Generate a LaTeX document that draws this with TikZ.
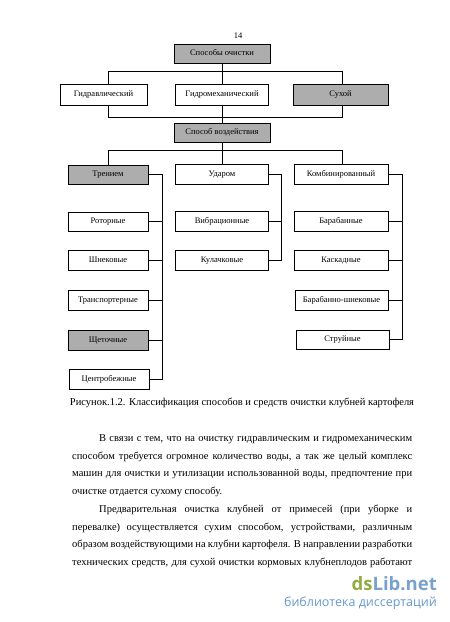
\documentclass[tikz,border=0pt]{standalone}
\usepackage{fontspec}
\setmainfont{Liberation Serif}
\newfontfamily\wmfont{Open Sans}
\definecolor{shadegray}{HTML}{ADADAD}
\definecolor{wmgreen}{HTML}{93AB45}
\definecolor{wmblue}{HTML}{78A2CB}
\definecolor{wmblue2}{HTML}{6798D0}
\begin{document}
\begin{tikzpicture}[x=1pt,y=-1pt,
  box/.style={draw, line width=0.6pt, inner sep=0pt, text height=5pt, text depth=1pt, font=\fontsize{8.5}{10}\selectfont},
  shadedbox/.style={box, fill=shadegray},
  conn/.style={line width=0.6pt},
  bodytext/.style={anchor=base west, inner sep=0pt, font=\fontsize{10.5}{12}\selectfont}]
\useasboundingbox (0,0) rectangle (450,622);
\fill[white] (0,0) rectangle (450,622);

\node[anchor=base, inner sep=0pt, font=\fontsize{8.5}{10}\selectfont] (pg) at (238,38) {14};

% level 1
\node[shadedbox, minimum width=96pt, minimum height=19pt] (sposoby) at (222,53.5) {Способы очистки};
% level 2
\node[box, minimum width=87pt, minimum height=21pt] (gidr) at (103.5,94.5) {Гидравлический};
\node[box, minimum width=93pt, minimum height=21pt] (gmech) at (222,94.5) {Гидромеханический};
\node[shadedbox, minimum width=95pt, minimum height=21pt] (sukh) at (340.5,94.5) {Сухой};
% level 3
\node[shadedbox, minimum width=96pt, minimum height=19pt] (vozd) at (222,132.5) {Способ воздействия};
% level 4
\node[shadedbox, minimum width=80pt, minimum height=19pt] (tren) at (108,174.5) {Трением};
\node[box, minimum width=93pt, minimum height=20pt] (udar) at (222,174) {Ударом};
\node[box, minimum width=94pt, minimum height=20pt] (komb) at (341,174) {Комбинированный};
% left column
\node[box, minimum width=80pt, minimum height=19pt] (rot) at (108,221.5) {Роторные};
\node[box, minimum width=80pt, minimum height=20pt] (shn) at (108,260) {Шнековые};
\node[box, minimum width=80pt, minimum height=20pt] (tra) at (108,300) {Транспортерные};
\node[shadedbox, minimum width=80pt, minimum height=20pt] (shch) at (108,340) {Щеточные};
\node[box, minimum width=80pt, minimum height=20pt] (cen) at (109,379) {Центробежные};
% middle column
\node[box, minimum width=93pt, minimum height=20pt] (vib) at (222,221) {Вибрационные};
\node[box, minimum width=93pt, minimum height=20pt] (kul) at (222,260) {Кулачковые};
% right column
\node[box, minimum width=94pt, minimum height=20pt] (bar) at (341,221) {Барабанные};
\node[box, minimum width=94pt, minimum height=20pt] (kas) at (341,260) {Каскадные};
\node[box, minimum width=93pt, minimum height=20pt] (bsh) at (341.5,300) {Барабанно-шнековые};
\node[box, minimum width=93pt, minimum height=19pt] (str) at (342.5,339.5) {Струйные};

% bus coordinates
\coordinate (tl) at (108,71);
\coordinate (tr) at (342,71);
\coordinate (bl) at (108,117);
\coordinate (br) at (342,117);
\coordinate (ml) at (108,150);
\coordinate (mr) at (342,150);
\coordinate (lbus) at (162,0);
\coordinate (mbus) at (281,0);
\coordinate (rbus) at (402,0);

% top connectors
\draw[conn] (sposoby.south) -- (gmech.north);
\draw[conn] (gidr.north -| tl) -- (tl) -- (tr) -- (sukh.north -| tr);
\draw[conn] (gidr.south -| bl) -- (bl) -- (br) -- (sukh.south -| br);
\draw[conn] (gmech.south) -- (vozd.north);
\draw[conn] (vozd.south) -- (udar.north);
\draw[conn] (tren.north -| ml) -- (ml) -- (mr) -- (komb.north -| mr);

% left bus
\draw[conn] (tren.east) -- (tren.east -| lbus) -- (cen.east -| lbus) -- (cen.east);
\foreach \n in {rot,shn,tra,shch} \draw[conn] (\n.east) -- (\n.east -| lbus);
% middle bus
\draw[conn] (udar.east) -- (udar.east -| mbus) -- (kul.east -| mbus) -- (kul.east);
\draw[conn] (vib.east) -- (vib.east -| mbus);
% right bus
\draw[conn] (komb.east) -- (komb.east -| rbus) -- (str.east -| rbus) -- (str.east);
\foreach \n in {bar,kas,bsh} \draw[conn] (\n.east) -- (\n.east -| rbus);

% caption
\node[anchor=base, inner sep=0pt, font=\fontsize{10.5}{12}\selectfont] (cap) at (242,405.5)
  {Рисунок.1.2. Классификация способов и средств очистки клубней картофеля};

% body text
\node[bodytext] (p1) at (99,441.5) {\makebox[313pt][s]{В связи с тем, что на очистку гидравлическим и гидромеханическим}};
\node[bodytext] (p2) at (72,459.2) {\makebox[340pt][s]{способом требуется огромное количество воды, а так же целый комплекс}};
\node[bodytext] (p3) at (72,476.9) {\makebox[340pt][s]{машин для очистки и утилизации использованной воды, предпочтение при}};
\node[bodytext] (p4) at (72,494.6) {очистке отдается сухому способу.};
\node[bodytext] (p5) at (99,512.3) {\makebox[313pt][s]{Предварительная очистка клубней от примесей (при уборке и}};
\node[bodytext] (p6) at (72,530) {\makebox[340pt][s]{перевалке) осуществляется сухим способом, устройствами, различным}};
\node[bodytext] (p7) at (72,547.7) {\makebox[340pt][s]{образом воздействующими на клубни картофеля. В направлении разработки}};
\node[bodytext] (p8) at (72,565.4) {\makebox[340pt][s]{технических средств, для сухой очистки кормовых клубнеплодов работают}};

% watermark
\node[anchor=base east, inner sep=0pt, font=\wmfont\bfseries\fontsize{18.5}{20}\selectfont] (wm1) at (437,590)
  {\textcolor{wmgreen}{ds}\textcolor{wmblue}{Lib.net}};
\node[anchor=base east, inner sep=0pt, font=\wmfont\fontsize{12.5}{14}\selectfont, text=wmblue2] (wm2) at (437,606)
  {библиотека диссертаций};
\end{tikzpicture}
\end{document}
